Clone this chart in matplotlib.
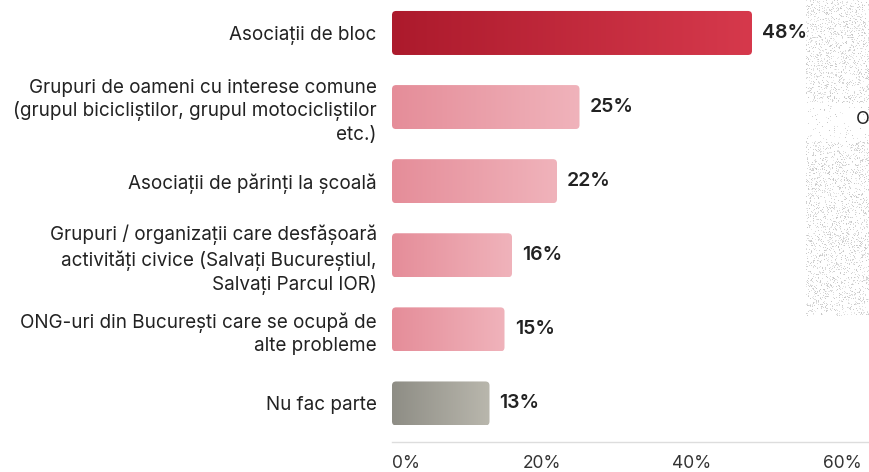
import numpy as np
import matplotlib
matplotlib.use("Agg")
import matplotlib.pyplot as plt
from matplotlib.patches import FancyBboxPatch
from matplotlib.colors import LinearSegmentedColormap

plt.rcParams['font.family'] = ['Inter', 'DejaVu Sans']

# data
categories = [
    "Asociații de bloc",
    "Grupuri de oameni cu interese comune\n(grupul bicicliștilor, grupul motocicliștilor\netc.)",
    "Asociații de părinți la școală",
    "Grupuri / organizații care desfășoară\nactivități civice (Salvați Bucureștiul,\nSalvați Parcul IOR)",
    "ONG-uri din București care se ocupă de\nalte probleme",
    "Nu fac parte",
]
values = [48, 25, 22, 16, 15, 13]
x_ticks = [0, 20, 40, 60]
x_tick_labels = ["0%", "20%", "40%", "60%"]

# gradient colours (left, right) per bar
red = ("#ac1a2c", "#d6394c")
pink = ("#e58d99", "#f0b3bb")
gray = ("#8e8d85", "#b9b7ad")
bar_colors = [red, pink, pink, pink, pink, gray]

fig = plt.figure(figsize=(8.69, 4.72), dpi=100)
ax = fig.add_axes([392 / 869, 30 / 472, 477 / 869, 442 / 472])

y = np.arange(len(categories))
bars = ax.barh(y, values, height=0.594, color="none")

ax.set_xlim(0, 477 / 7.5)
ax.set_ylim(5.52, -0.445)

grad = np.linspace(0, 1, 256).reshape(1, -1)
for bar, (c0, c1), v in zip(bars, bar_colors, values):
    x0, y0 = bar.get_x(), bar.get_y()
    w, h = bar.get_width(), bar.get_height()
    # rounded corners, about 4px
    patch = FancyBboxPatch((x0, y0), w, h, boxstyle="round,pad=0,rounding_size=0.55",
                           mutation_aspect=0.1, facecolor="none", edgecolor="none")
    ax.add_patch(patch)
    cmap = LinearSegmentedColormap.from_list("g", [c0, c1])
    im = ax.imshow(grad, cmap=cmap, extent=(x0, x0 + w, y0 + h, y0),
                   aspect="auto", interpolation="bilinear", zorder=2)
    im.set_clip_path(patch)
    ax.text(x0 + w + 1.35, y0 + h / 2, f"{v}%", va="center", ha="left",
            fontsize=14, fontweight="semibold", color="#222222")

# y labels
ax.set_yticks(y, categories)
ax.tick_params(axis="y", length=0, pad=11, labelsize=13.6, labelcolor="#222222")
for lbl in ax.get_yticklabels():
    lbl.set_linespacing(1.3)

# x axis
ax.set_xticks(x_ticks, x_tick_labels)
ax.tick_params(axis="x", length=0, pad=9, labelsize=12.5, labelcolor="#333333")
ax.get_xticklabels()[0].set_ha("left")
for s in ["top", "right", "left"]:
    ax.spines[s].set_visible(False)
ax.spines["bottom"].set_color("#dddddd")
ax.spines["bottom"].set_linewidth(1)

# speckled panel cut off at the right edge
rng = np.random.default_rng(3)
tex_h, tex_w = 316, 63
tex = np.ones((tex_h, tex_w, 4))
dens = np.full((tex_h, 1), 0.18)
dens[103:142] = 0.03
dots = rng.random((tex_h, tex_w)) < dens
shade = rng.uniform(0.78, 0.92, (tex_h, tex_w))
tex[..., 0] = np.where(dots, shade, 1)
tex[..., 1] = tex[..., 0]
tex[..., 2] = tex[..., 0]
tax = fig.add_axes([806 / 869, (472 - 316) / 472, 63 / 869, 316 / 472], zorder=0)
tax.imshow(tex, aspect="auto", interpolation="nearest")
tax.axis("off")
fig.text(856 / 869, 1 - 119 / 472, "O", fontsize=13, color="#222222", va="center", ha="left")

fig.savefig("out.png", dpi=100)
